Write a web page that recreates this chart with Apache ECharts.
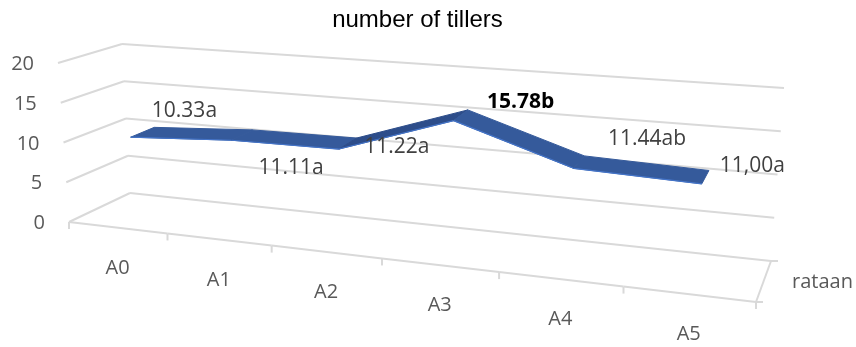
<!DOCTYPE html>
<html>
<head>
<meta charset="utf-8">
<style>html,body{margin:0;padding:0;background:#fff}#chart{width:856px;height:347px}</style>
<script src="https://cdn.jsdelivr.net/npm/echarts@6/dist/echarts.min.js"></script>
</head>
<body>
<div id="chart"></div>
<script>
const chartTitle = 'number of tillers';
const seriesName = 'rataan';
const categories = ['A0', 'A1', 'A2', 'A3', 'A4', 'A5'];
const values = [10.33, 11.11, 11.22, 15.78, 11.44, 11.00];
const valueLabels = ['10.33a', '11.11a', '11.22a', '15.78b', '11.44ab', '11,00a'];
const valueTicks = [0, 5, 10, 15, 20];

// Label offsets from the middle of the ribbon at each category.
const labelOffsets = [[42, -23], [49, 31], [49, 2], [60, -15], [68, -25], [47, -13]];

// Corners of the 3D plot box on screen: front/back, left/right, floor/top.
const box = {
  frontLeftFloor: [69, 222], frontRightFloor: [756, 302],
  backLeftFloor: [130, 193], backRightFloor: [771, 261],
  frontLeftTop: [58, 63], frontRightTop: [773, 117],
  backLeftTop: [122, 44], backRightTop: [784, 88]
};
const foreshorten = 0.837;
const ribbonFront = 0.3, ribbonBack = 0.7;

const gridRect = { left: 100, top: 60, width: 600, height: 200 };
const FONT = '"Open Sans", "Noto Sans", sans-serif';
const LINE = '#d9d9d9';
const TEXT = '#595959';
const RIBBON = '#355a9b';
const RIBBON_SHADE = '#2d4d8a';

const mix = (a, b, t) => [a[0] + (b[0] - a[0]) * t, a[1] + (b[1] - a[1]) * t];

// u: along the categories, v: up the value axis, d: into the depth (all 0..1).
function project(u, v, d) {
  const t = foreshorten * u / (1 + (foreshorten - 1) * u);
  const floor = mix(mix(box.frontLeftFloor, box.frontRightFloor, t), mix(box.backLeftFloor, box.backRightFloor, t), d);
  const top = mix(mix(box.frontLeftTop, box.frontRightTop, t), mix(box.backLeftTop, box.backRightTop, t), d);
  return mix(floor, top, v);
}

// Turns an axis-scale pixel of the flat cartesian grid into box coordinates.
function place(coord, d) {
  const u = (coord[0] - gridRect.left) / gridRect.width;
  const v = (gridRect.top + gridRect.height - coord[1]) / gridRect.height;
  return project(u, v, d);
}

const line = (a, b, width, color) => ({
  type: 'line', silent: true,
  shape: { x1: a[0], y1: a[1], x2: b[0], y2: b[1] },
  style: { stroke: color || LINE, lineWidth: width || 2 }
});
const text = (str, x, y, align, fill, weight, size) => ({
  type: 'text', silent: true,
  style: {
    x: x, y: y + 1.5, text: str, fill: fill || TEXT, align: align || 'center', verticalAlign: 'middle',
    font: (weight || 'normal') + ' ' + (size || 20) + 'px ' + FONT
  }
});

// Value-axis gridlines across the side and back walls, with their tick labels.
function renderGridline(params, api) {
  const c = api.coord([0, api.value(0)]);
  const band = api.size([1, 0])[0];
  const atLeft = [c[0] - band / 2, c[1]];
  const atRight = [c[0] - band / 2 + band * categories.length, c[1]];
  const fl = place(atLeft, 0), bl = place(atLeft, 1), br = place(atRight, 1);
  return {
    type: 'group',
    children: [
      line(fl, bl), line(bl, br),
      text(String(api.value(0)), fl[0] - 24, fl[1], 'right')
    ]
  };
}

// Front floor edge, category ticks and labels, plus the short depth axis.
function renderCategory(params, api) {
  const i = api.value(0);
  const c = api.coord([i, 0]);
  const band = api.size([1, 0])[0];
  const front = place(c, 0);
  const a = place([c[0] - band / 2, c[1]], 0);
  const b = place([c[0] + band / 2, c[1]], 0);
  const children = [
    line(a, b),
    line(a, [a[0], a[1] + 7]),
    text(categories[i], front[0], front[1] + 39)
  ];
  if (i === categories.length - 1) {
    const backEnd = place([c[0] + band / 2, c[1]], 1);
    const mid = mix(b, backEnd, 0.5);
    children.push(
      line(b, backEnd),
      line(b, [b[0], b[1] + 7]),
      line(b, [b[0] + 7, b[1]]),
      line(backEnd, [backEnd[0] + 7, backEnd[1]]),
      text(seriesName, mid[0] + 59, mid[1] - 1)
    );
  }
  return { type: 'group', children: children };
}

// One ribbon panel between two neighbouring categories.
function renderRibbon(params, api) {
  const i = api.value(0);
  if (i >= values.length - 1) return null;
  const p = api.coord([i, api.value(1)]);
  const q = api.coord([i + 1, values[i + 1]]);
  const f1 = place(p, ribbonFront), f2 = place(q, ribbonFront);
  const b1 = place(p, ribbonBack), b2 = place(q, ribbonBack);
  const fill = q[1] < p[1] - 10 ? RIBBON_SHADE : RIBBON;
  return {
    type: 'group',
    children: [
      {
        type: 'polygon', silent: true,
        shape: { points: [f1, f2, b2, b1] },
        style: { fill: fill, stroke: fill, lineWidth: 1 }
      },
      line(f1, f2, 1.2, '#4474c8')
    ]
  };
}

function renderLabel(params, api) {
  const i = api.value(0);
  const mid = place(api.coord([i, api.value(1)]), (ribbonFront + ribbonBack) / 2);
  const highlight = i === 3;
  return text(valueLabels[i], mid[0] + labelOffsets[i][0], mid[1] + labelOffsets[i][1],
    'center', highlight ? '#000000' : '#404040', highlight ? 'bold' : 'normal', 21);
}

const chart = echarts.init(document.getElementById('chart'), null, { renderer: 'canvas' });
const rows = values.map((v, i) => [i, v]);

chart.setOption({
  animation: false,
  backgroundColor: '#ffffff',
  title: {
    text: chartTitle, left: 412.5, top: 3, textAlign: 'center',
    textStyle: { fontFamily: 'Liberation Sans', fontSize: 24, fontWeight: 'normal', color: '#000000' }
  },
  grid: gridRect,
  xAxis: { type: 'category', data: categories, show: false },
  yAxis: { type: 'value', min: 0, max: 20, interval: 5, show: false },
  series: [
    { type: 'custom', name: 'gridlines', coordinateSystem: 'cartesian2d', renderItem: renderGridline,
      data: valueTicks.map(v => [v]), encode: { y: 0 }, z: 1 },
    { type: 'custom', name: 'categories', coordinateSystem: 'cartesian2d', renderItem: renderCategory,
      data: categories.map((c, i) => [i]), encode: { x: 0 }, z: 1 },
    { type: 'custom', name: seriesName, coordinateSystem: 'cartesian2d', renderItem: renderRibbon,
      data: rows, encode: { x: 0, y: 1 }, z: 2 },
    { type: 'custom', name: 'labels', coordinateSystem: 'cartesian2d', renderItem: renderLabel,
      data: rows, encode: { x: 0, y: 1 }, z: 3 }
  ]
});
</script>
</body>
</html>
